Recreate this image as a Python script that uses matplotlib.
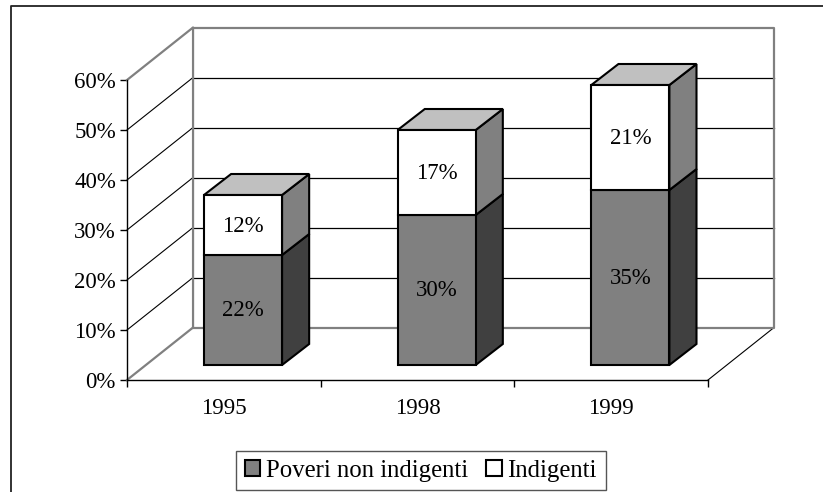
"""Stacked pseudo-3D bars: Poveri non indigenti / Indigenti."""

from matplotlib import pyplot as plt
from matplotlib.lines import Line2D
from matplotlib.patches import Patch, Polygon

years = ["1995", "1998", "1999"]
poveri = [22, 30, 35]
indigenti = [12, 17, 21]
y_ticks = [0, 10, 20, 30, 40, 50, 60]

W, H = 823, 492

# depth of the walls and of the bars, in data units (1 category = 193.67 px, 1% = 5 px)
WALL_DX, WALL_DY = 0.341, 10.5
BAR_DX, BAR_DY = 0.14, 4.2
BAR_LIFT = 3.0
BAR_GAP = 0.3976
BAR_WIDTH = 0.403

GRAY = "#808080"
LIGHT = "#C0C0C0"
DARK = "#404040"

plt.rcParams["font.family"] = ["Liberation Serif", "DejaVu Serif"]
plt.rcParams["font.size"] = 16.5

fig = plt.figure(figsize=(W / 100, H / 100), dpi=100)
fig.add_artist(Line2D([11 / W, 11 / W, 1], [0, 1 - 6 / H, 1 - 6 / H], color="#222222", lw=1.3))

ax = fig.add_axes([127 / W, 1 - 380 / H, 581 / W, 300 / H])
ax.patch.set_visible(False)
ax.set_xlim(0, len(years))
ax.set_ylim(0, 60)

for side in ["top", "right"]:
    ax.spines[side].set_visible(False)
ax.spines["left"].set_linewidth(1.0)
ax.spines["bottom"].set_linewidth(1.0)
ax.spines["left"].set_zorder(4)
ax.spines["bottom"].set_zorder(4)

ax.set_yticks(y_ticks)
ax.set_yticklabels([f"{v}%" for v in y_ticks])
ax.set_xticks(range(len(years) + 1))
ax.set_xticklabels([])
ax.set_xticks([i + 0.5 for i in range(len(years))], labels=years, minor=True)
ax.tick_params(axis="x", which="minor", length=0, pad=13)
ax.tick_params(axis="x", which="major", length=5, width=1.0)
ax.tick_params(axis="y", length=5, width=1.0, pad=3)

# walls and grid
right = len(years)
for v in y_ticks[1:-1]:
    ax.plot([0, WALL_DX], [v, v + WALL_DY], color="black", lw=0.8, zorder=1, clip_on=False)
    ax.plot([WALL_DX, right + WALL_DX], [v + WALL_DY] * 2, color="black", lw=0.9, zorder=1, clip_on=False)
ax.plot(
    [0, WALL_DX, WALL_DX, 0],
    [0, WALL_DY, 60 + WALL_DY, 60],
    color=GRAY, lw=1.6, zorder=2, clip_on=False,
)
ax.plot(
    [WALL_DX, right + WALL_DX, right + WALL_DX, WALL_DX],
    [60 + WALL_DY, 60 + WALL_DY, WALL_DY, WALL_DY],
    color=GRAY, lw=1.6, zorder=2, clip_on=False,
)
ax.plot([right, right + WALL_DX], [0, WALL_DY], color="black", lw=0.8, zorder=1, clip_on=False)

# bars
edge = {"edgecolor": "black", "linewidth": 1.5, "joinstyle": "miter", "clip_on": False}
for i, (low, high) in enumerate(zip(poveri, indigenti)):
    x0 = i + BAR_GAP
    x1 = x0 + BAR_WIDTH
    xc = (x0 + x1) / 2
    base = BAR_LIFT
    mid = base + low
    top = mid + high

    ax.bar(xc, low, BAR_WIDTH, bottom=base, color=GRAY, zorder=5, **edge)
    ax.bar(xc, high, BAR_WIDTH, bottom=mid, color="white", zorder=5, **edge)

    for y_a, y_b, color in [(base, mid, DARK), (mid, top, GRAY)]:
        ax.add_patch(
            Polygon(
                [(x1, y_a), (x1 + BAR_DX, y_a + BAR_DY), (x1 + BAR_DX, y_b + BAR_DY), (x1, y_b)],
                facecolor=color, zorder=4, **edge,
            )
        )
    ax.add_patch(
        Polygon(
            [(x0, top), (x0 + BAR_DX, top + BAR_DY), (x1 + BAR_DX, top + BAR_DY), (x1, top)],
            facecolor=LIGHT, zorder=4, **edge,
        )
    )

    ax.text(xc, base + low / 2 - 0.2, f"{low}%", ha="center", va="center", zorder=6)
    ax.text(xc, mid + high / 2 - 0.2, f"{high}%", ha="center", va="center", zorder=6)

handles = [
    Patch(facecolor=GRAY, edgecolor="black", linewidth=1.5, label="Poveri non indigenti"),
    Patch(facecolor="white", edgecolor="black", linewidth=1.5, label="Indigenti"),
]
leg = fig.legend(
    handles=handles,
    loc="center",
    bbox_to_anchor=(421 / W, 1 - 470.5 / H),
    ncol=2,
    frameon=True,
    fancybox=False,
    framealpha=1,
    edgecolor="#555555",
    fontsize=17.8,
    handlelength=0.62,
    handleheight=0.62,
    handletextpad=0.24,
    columnspacing=0.72,
    borderpad=0.35,
    borderaxespad=0,
)
leg.get_frame().set_linewidth(1.0)

plt.savefig("out.png", dpi=100)
